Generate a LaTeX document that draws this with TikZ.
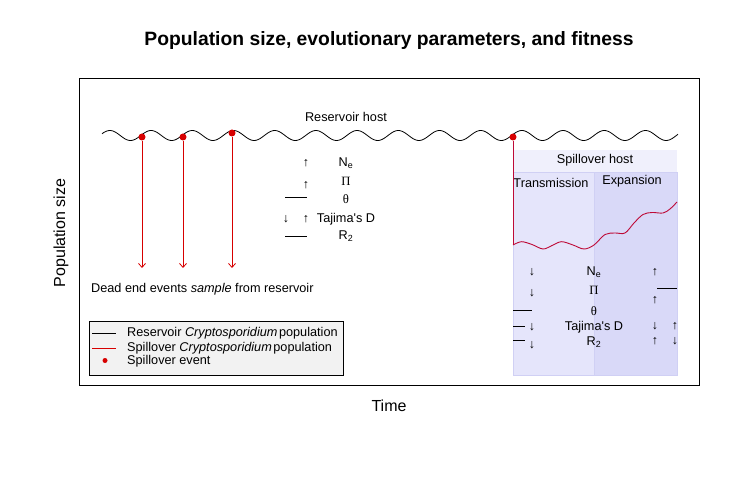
\documentclass[tikz,border=0pt]{standalone}
\usepackage{fontspec}
\setmainfont{Liberation Sans}
\newfontfamily\greekfont{Liberation Serif}
\usetikzlibrary{arrows.meta}

\definecolor{bandcol}{RGB}{240,240,252}
\definecolor{transcol}{RGB}{229,229,251}
\definecolor{expcol}{RGB}{217,217,248}
\definecolor{edgecol}{RGB}{208,208,244}
\definecolor{eventred}{RGB}{215,0,0}
\definecolor{spillred}{RGB}{190,10,55}
\definecolor{legendfill}{RGB}{242,242,242}

\begin{document}
\begin{tikzpicture}[x=1pt,y=-1pt,
  lbl/.style={font=\fontsize{12.7}{14}\selectfont, inner sep=0pt},
  arw/.style={font=\fontsize{12.5}{13}\selectfont, inner sep=0pt},
  axl/.style={font=\fontsize{16}{18}\selectfont, inner sep=0pt},
  ttl/.style={font=\fontsize{19.3}{22}\selectfont\bfseries, inner sep=0pt},
  eventdot/.style={circle, fill=eventred, inner sep=0pt, minimum size=7pt},
  deadend/.style={eventred, line width=0.8pt, -{Straight Barb[length=4pt, width=7pt]}},
  spill/.style={spillred, line width=0.9pt},
  nochange/.style={line width=0.8pt}]
\useasboundingbox (0,0) rectangle (740,484);

% titles and axes
\node[ttl] (title) at (389,41) {Population size, evolutionary parameters, and fitness};
\draw[line width=0.8pt] (79,78) rectangle (699,385);
\node[axl] (xlab) at (389,406) {Time};
\node[axl, rotate=90] (ylab) at (61,233) {Population size};

% spillover host panels
\fill[bandcol] (513,150) rectangle (677,375);
\filldraw[fill=transcol, draw=edgecol, line width=0.6pt] (513,172) rectangle (594,375);
\filldraw[fill=expcol, draw=edgecol, line width=0.6pt] (594,172) rectangle (677,375);
\node[lbl] (spillhost) at (595,160) {Spillover host};
\node[lbl] (transm) at (551,183) {Transmission};
\node[lbl] (expan) at (632,181) {Expansion};

% reservoir population
\draw[line width=0.8pt] plot[domain=102:678, samples=400] (\x, {135.5 - 5*sin((\x-102)/41.2*360 + 21)});
\node[lbl] (reshost) at (346,117) {Reservoir host};

% dead end events
\node[eventdot] (ev1) at (142,137) {};
\node[eventdot] (ev2) at (183,137) {};
\node[eventdot] (ev3) at (232,133) {};
\coordinate (end1) at (142,268);
\coordinate (end2) at (183,268);
\coordinate (end3) at (232,268);
\draw[deadend] (ev1) -- (end1);
\draw[deadend] (ev2) -- (end2);
\draw[deadend] (ev3) -- (end3);
\node[lbl, anchor=west] (deadlbl) at (91,289) {Dead end events \textit{sample} from reservoir};

% spillover event and spillover population
\node[eventdot] (ev4) at (513,137) {};
\coordinate (spstart) at (513,245);
\draw[spill] (ev4) -- (spstart);
\draw[spill] plot[smooth, tension=0.55] coordinates {(513,245) (521.5,241.7) (532,244.5) (543,249) (552,245.5)
  (561.5,241.7) (573,245) (584,249) (594,245) (605,234.5) (615,233) (625,233) (634,223) (643,214.5)
  (652,212.5) (663,213) (670,209) (677,202)};

% reservoir parameters
\node[lbl] (rNe) at (346,163) {N\textsubscript{e}};
\node[lbl] (rPi) at (346,181) {\greekfont Π};
\node[lbl] (rTheta) at (346,199) {\greekfont θ};
\node[lbl] (rD) at (346,219) {Tajima\textquotesingle s D};
\node[lbl] (rR) at (346,236) {R\textsubscript{2}};
\node[arw] (rNeUp) at (306,163) {↑};
\node[arw] (rPiUp) at (306,185) {↑};
\node[arw] (rDdown) at (286,219) {↓};
\node[arw] (rDup) at (306,219) {↑};
\draw[nochange] (285,197) -- (307,197);
\draw[nochange] (285,236) -- (307,236);

% spillover parameters
\node[lbl] (sNe) at (594,272) {N\textsubscript{e}};
\node[lbl] (sPi) at (594,290) {\greekfont Π};
\node[lbl] (sTheta) at (594,311) {\greekfont θ};
\node[lbl] (sD) at (594,327) {Tajima\textquotesingle s D};
\node[lbl] (sR) at (594,342) {R\textsubscript{2}};
\node[arw] (tNeDown) at (532,272) {↓};
\node[arw] (tPiDown) at (532,293) {↓};
\node[arw] (tDdown) at (532,327) {↓};
\node[arw] (tRdown) at (532,345) {↓};
\draw[nochange] (513,310) -- (532,310);
\draw[nochange] (513,326) -- (525,326);
\draw[nochange] (513,340) -- (525,340);
\node[arw] (eNeUp) at (655,272) {↑};
\node[arw] (ePiUp) at (655,300) {↑};
\node[arw] (eDdown) at (655,326) {↓};
\node[arw] (eDup) at (675,326) {↑};
\node[arw] (eRup) at (655,341) {↑};
\node[arw] (eRdown) at (675,341) {↓};
\draw[nochange] (657,288) -- (677,288);

% legend
\node[draw=black, fill=legendfill, line width=0.8pt, inner sep=0pt,
  minimum width=254pt, minimum height=54pt] (legend) at (216,348) {};
\draw[line width=0.8pt] (92,333.5) -- (116,333.5);
\draw[eventred, line width=0.8pt] (92,348) -- (116,348);
\node[eventdot, minimum size=5pt] (legdot) at (105,360.5) {};
\node[lbl, anchor=west] (legres) at (127,333.5) {Reservoir \textit{Cryptosporidium}\hspace{1.5pt}population};
\node[lbl, anchor=west] (legspill) at (127,348) {Spillover \textit{Cryptosporidium}\hspace{1.5pt}population};
\node[lbl, anchor=west] (legevent) at (127,361) {Spillover event};
\end{tikzpicture}
\end{document}
